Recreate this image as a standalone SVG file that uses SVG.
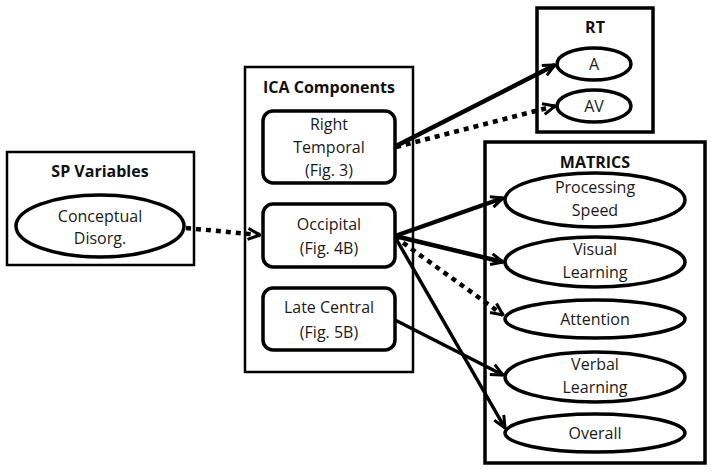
<svg xmlns="http://www.w3.org/2000/svg" width="712" height="473" viewBox="0 0 712 473">
<style>
.t{font-family:"Open Sans","Liberation Sans",sans-serif;font-size:16px;fill:#1a1a1a;text-anchor:middle}
.b{font-family:"Open Sans","Liberation Sans",sans-serif;font-size:16px;font-weight:bold;fill:#111;text-anchor:middle}
.box{fill:#fff;stroke:#000;stroke-width:2.5}
.boxk{fill:#fff;stroke:#000;stroke-width:3.5}
.n{fill:#fff;stroke:#000;stroke-width:3.5}
.s{fill:none;stroke:#000;stroke-width:4.5}
.s3{fill:none;stroke:#000;stroke-width:3.5}
.d{fill:none;stroke:#000;stroke-width:4.5;stroke-dasharray:5 5}
</style>
<defs>
<marker id="ah" viewBox="0 0 14 14" refX="13" refY="7" markerWidth="14" markerHeight="14" markerUnits="userSpaceOnUse" orient="auto">
<path d="M1,1.5 L13,7 L1,12.5" fill="none" stroke="#000" stroke-width="3"/>
</marker>
</defs>
<g id="sp">
<rect class="box" x="7" y="152" width="187" height="113"/>
<text class="b" x="100" y="177">SP Variables</text>
<ellipse class="n" cx="100" cy="226" rx="84" ry="31"/>
<text class="t" x="100" y="222">Conceptual</text>
<text class="t" x="100" y="244">Disorg.</text>
</g>
<g id="ica">
<rect class="box" x="245" y="67" width="168" height="305"/>
<text class="b" x="329" y="93">ICA Components</text>
</g>
<g id="rtemp">
<rect class="n" x="263" y="111" width="132" height="72" rx="10"/>
<text class="t" x="329" y="130">Right</text>
<text class="t" x="329" y="153">Temporal</text>
<text class="t" x="329" y="176">(Fig. 3)</text>
</g>
<g id="occ">
<rect class="n" x="263" y="204" width="132" height="63" rx="10"/>
<text class="t" x="329" y="230">Occipital</text>
<text class="t" x="329" y="254">(Fig. 4B)</text>
</g>
<g id="late">
<rect class="n" x="263" y="288" width="132" height="62" rx="10"/>
<text class="t" x="329" y="313">Late Central</text>
<text class="t" x="329" y="338">(Fig. 5B)</text>
</g>
<g id="rt">
<rect class="boxk" x="537" y="8" width="116" height="124"/>
<text class="b" x="595" y="33">RT</text>
</g>
<g id="a">
<ellipse class="n" cx="594" cy="64" rx="37" ry="16"/>
<text class="t" x="594" y="70">A</text>
</g>
<g id="av">
<ellipse class="n" cx="594" cy="106" rx="37" ry="16"/>
<text class="t" x="594" y="112">AV</text>
</g>
<g id="matrics">
<rect class="boxk" x="485" y="142" width="220" height="321"/>
<text class="b" x="595" y="168">MATRICS</text>
</g>
<g id="ps">
<ellipse class="n" cx="595" cy="200" rx="90" ry="27"/>
<text class="t" x="595" y="193">Processing</text>
<text class="t" x="595" y="216">Speed</text>
</g>
<g id="vis">
<ellipse class="n" cx="595" cy="262" rx="90" ry="25"/>
<text class="t" x="595" y="255">Visual</text>
<text class="t" x="595" y="278">Learning</text>
</g>
<g id="att">
<ellipse class="n" cx="595" cy="319" rx="90" ry="19"/>
<text class="t" x="595" y="325">Attention</text>
</g>
<g id="verb">
<ellipse class="n" cx="595" cy="377" rx="90" ry="25"/>
<text class="t" x="595" y="370">Verbal</text>
<text class="t" x="595" y="393">Learning</text>
</g>
<g id="overall">
<ellipse class="n" cx="595" cy="433" rx="90" ry="19"/>
<text class="t" x="595" y="439">Overall</text>
</g>
<g id="connectors">
<line class="d" x1="186" y1="228" x2="260" y2="235" marker-end="url(#ah)"/>
<line class="s" x1="396" y1="146" x2="555" y2="65" marker-end="url(#ah)"/>
<line class="d" x1="396" y1="147" x2="555" y2="106" marker-end="url(#ah)"/>
<line class="s" x1="395" y1="236" x2="503" y2="198" marker-end="url(#ah)"/>
<line class="s" x1="395" y1="236" x2="503" y2="262" marker-end="url(#ah)"/>
<line class="d" x1="395" y1="237" x2="503" y2="315" marker-end="url(#ah)"/>
<line class="s3" x1="395" y1="237" x2="505" y2="428" marker-end="url(#ah)"/>
<line class="s3" x1="395" y1="320" x2="503" y2="375" marker-end="url(#ah)"/>
</g>
</svg>
